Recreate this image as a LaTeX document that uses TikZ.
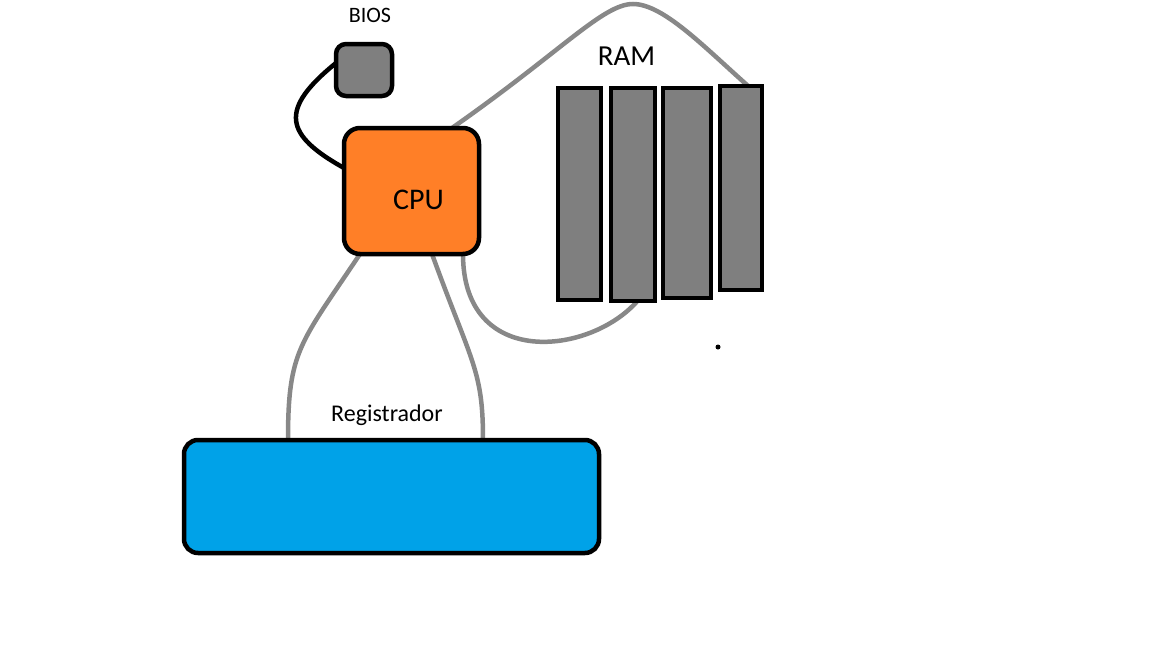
\documentclass[tikz,border=0pt]{standalone}
\usepackage{fontspec}
\setmainfont{Carlito}
\usetikzlibrary{positioning, calc, backgrounds}
\definecolor{cpuorange}{RGB}{255,127,39}
\definecolor{regblue}{RGB}{0,162,232}
\definecolor{chipgray}{RGB}{127,127,127}
\definecolor{wiregray}{RGB}{136,136,136}

\begin{document}
\begin{tikzpicture}[
    x=1pt, y=-1pt,
    chip/.style={rectangle, draw, line width=4.5pt, inner sep=0pt, outer sep=0pt},
    ramstick/.style={chip, fill=chipgray, minimum width=#1},
    lbl/.style={inner sep=0pt, anchor=base},
    wire/.style={line width=4.5pt, wiregray},
    bioswire/.style={line width=4.5pt, black}
]
\useasboundingbox (0,0) rectangle (1152,648);

% BIOS
\node[chip, fill=chipgray, rounded corners=10pt, minimum width=56pt, minimum height=52pt] (bios) at (364,70) {};
\node[lbl, font=\fontsize{22}{26}\selectfont] (bioslabel) at (370,22.7) {BIOS};

% CPU
\node[chip, fill=cpuorange, rounded corners=16pt, minimum width=135pt, minimum height=126pt] (cpu) at (411.5,191) {};
\node[lbl, font=\fontsize{30}{36}\selectfont] (cpulabel) at (418.5,209) {CPU};

% RAM sticks
\node[ramstick=43pt, minimum height=212pt] (ram1) at (579.5,194) {};
\node[ramstick=44pt, minimum height=213pt, right=10pt of ram1.north east, anchor=north west] (ram2) {};
\node[ramstick=48pt, minimum height=210pt, right=8pt of ram2.north east, anchor=north west] (ram3) {};
\node[ramstick=42pt, minimum height=204pt, right=9pt of ram3.north east, anchor=north west, yshift=2pt] (ram4) {};
\node[lbl, font=\fontsize{29}{35}\selectfont] (ramlabel) at (626.5,65) {RAM};

% Registrador
\node[chip, fill=regblue, rounded corners=14pt, minimum width=415pt, minimum height=113pt] (reg) at (391.5,496.5) {};
\node[lbl, font=\fontsize{24}{28}\selectfont] (reglabel) at (387,421.7) {Registrador};

\coordinate (peak) at (633,4);
\node[circle, fill=black, inner sep=0pt, minimum size=5pt] (speck) at (718,347) {};

% Wires
\begin{scope}[on background layer]
\draw[bioswire] ($(bios.north west)+(0,19)$) .. controls +(-58,47) and +(-59,-33) .. ($(cpu.north west)+(0,40)$);
\draw[wire] ($(cpu.north west)!0.8!(cpu.north east)$) .. controls +(110,-77) and +(-30,0) .. (peak)
    .. controls +(30,0) and +(-45,-40) .. ($(ram4.north west)!0.67!(ram4.north east)$);
\draw[wire] ($(cpu.south east)+(-16,0)$) .. controls +(0,116) and +(-47,54) .. ($(ram2.south west)!0.6!(ram2.south east)$);
\draw[wire] ($(cpu.south west)+(16,0)$) .. controls +(-60,90) and +(0,-90) .. ($(reg.north west)+(104,0)$);
\draw[wire] ($(cpu.south west)+(88,0)$) .. controls +(40,110) and +(0,-70) .. ($(reg.north west)+(299,0)$);
\end{scope}

\end{tikzpicture}
\end{document}
